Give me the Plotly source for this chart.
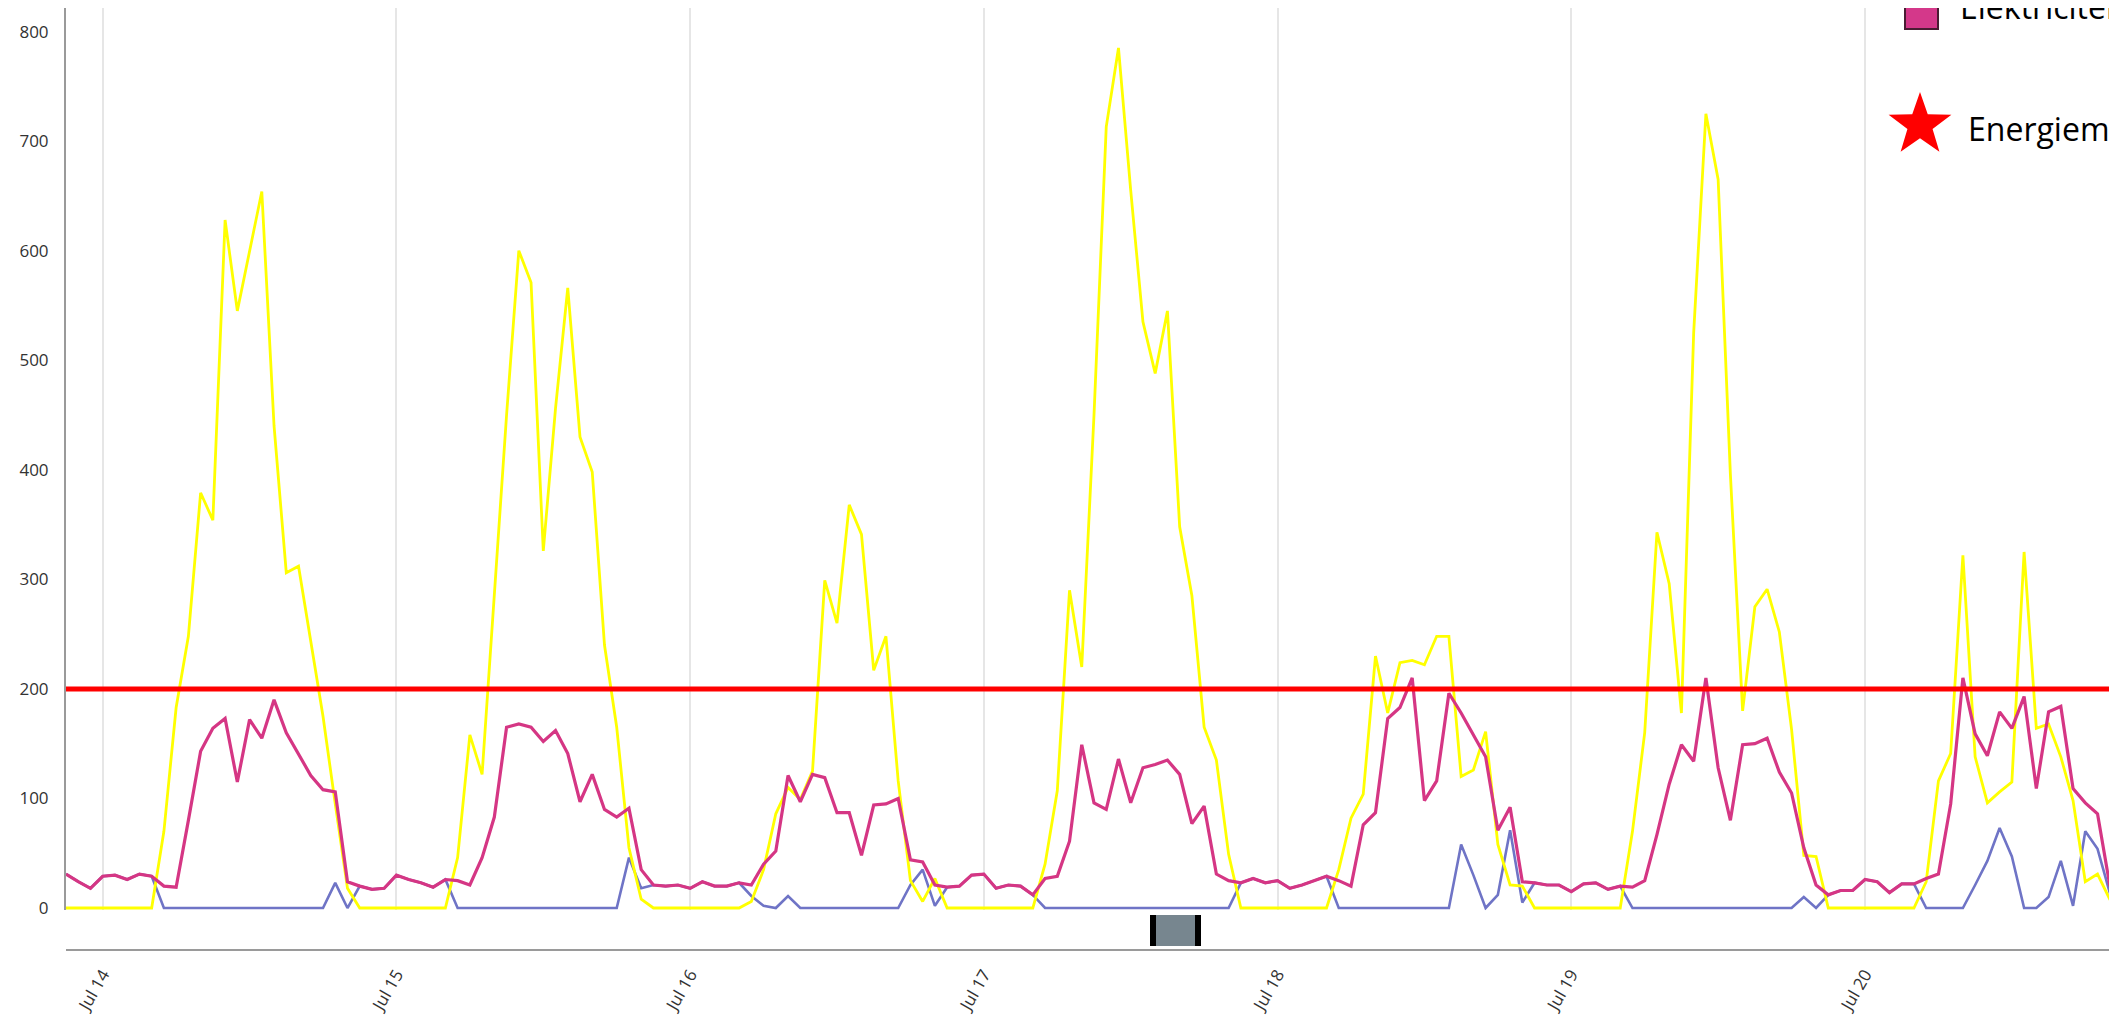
import math
import plotly.graph_objects as go
import pandas as pd

# ---------------- data (hourly, Jul 13 21:00 -> Jul 20 21:00) ----------------
START = "2024-07-13 21:00"

solar = [0, 0, 0, 0, 0, 0, 0, 0, 70, 183, 248, 379, 354, 628, 545, 600, 654, 440, 306, 312, 245, 175, 95, 18,
         0, 0, 0, 0, 0, 0, 0, 0, 46, 158, 122, 290, 450, 600, 571, 326, 456, 566, 430, 398, 240, 165, 55, 8,
         0, 0, 0, 0, 0, 0, 0, 0, 6, 35, 86, 110, 99, 125, 299, 260, 368, 341, 217, 248, 116, 25, 6, 27,
         0, 0, 0, 0, 0, 0, 0, 0, 40, 107, 290, 220, 450, 713, 785, 655, 535, 488, 545, 348, 285, 165, 135, 49,
         0, 0, 0, 0, 0, 0, 0, 0, 35, 82, 104, 230, 178, 224, 226, 222, 248, 248, 120, 126, 161, 58, 21, 20,
         0, 0, 0, 0, 0, 0, 0, 0, 70, 160, 343, 296, 178, 525, 725, 665, 396, 180, 275, 291, 252, 163, 48, 47,
         0, 0, 0, 0, 0, 0, 0, 0, 24, 116, 141, 322, 138, 96, 106, 115, 325, 164, 168, 138, 98, 24, 31, 8,
         0]

electricity = [31, 24, 18, 29, 30, 26, 31, 29, 20, 19, 80, 143, 164, 173, 115, 172, 155, 190, 160, 141, 121, 108, 106, 24,
               20, 17, 18, 30, 26, 23, 19, 26, 25, 21, 46, 83, 165, 168, 165, 152, 162, 141, 97, 122, 90, 83, 91, 35,
               21, 20, 21, 18, 24, 20, 20, 23, 21, 40, 52, 121, 97, 122, 119, 87, 87, 48, 94, 95, 100, 44, 42, 21,
               19, 20, 30, 31, 18, 21, 20, 12, 27, 29, 61, 149, 96, 90, 136, 96, 128, 131, 135, 122, 77, 93, 31, 25,
               23, 27, 23, 25, 18, 21, 25, 29, 25, 20, 76, 87, 173, 183, 210, 98, 116, 196, 178, 158, 138, 71, 92, 24,
               23, 21, 21, 15, 22, 23, 17, 20, 19, 25, 67, 113, 149, 134, 210, 128, 80, 149, 150, 155, 124, 105, 55, 21,
               12, 16, 16, 26, 24, 14, 22, 22, 27, 31, 95, 210, 159, 139, 179, 164, 193, 109, 179, 184, 109, 96, 86, 21,
               20]

grid = [31, 24, 18, 29, 30, 26, 31, 29, 0, 0, 0, 0, 0, 0, 0, 0, 0, 0, 0, 0, 0, 0, 23, 0,
        20, 17, 18, 30, 26, 23, 19, 26, 0, 0, 0, 0, 0, 0, 0, 0, 0, 0, 0, 0, 0, 0, 46, 18,
        21, 20, 21, 18, 24, 20, 20, 23, 11, 2, 0, 11, 0, 0, 0, 0, 0, 0, 0, 0, 0, 21, 35, 2,
        19, 20, 30, 31, 18, 21, 20, 12, 0, 0, 0, 0, 0, 0, 0, 0, 0, 0, 0, 0, 0, 0, 0, 0,
        23, 27, 23, 25, 18, 21, 25, 29, 0, 0, 0, 0, 0, 0, 0, 0, 0, 0, 58, 30, 0, 12, 71, 5,
        23, 21, 21, 15, 22, 23, 17, 20, 0, 0, 0, 0, 0, 0, 0, 0, 0, 0, 0, 0, 0, 0, 10, 0,
        12, 16, 16, 26, 24, 14, 22, 22, 0, 0, 0, 0, 21, 43, 73, 47, 0, 0, 10, 43, 2, 70, 54, 14,
        19]

threshold = 200
y_ticks = [0, 100, 200, 300, 400, 500, 600, 700, 800]
legend_labels = ["Elektriciteit", "Energiemodus"]

times = pd.date_range(START, periods=len(solar), freq="h")

# ---------------- geometry / style ----------------
W, H = 2117, 1016
ML, MR, MT, MB = 58, 3, 0, 74
PW, PH = W - ML - MR, H - MT - MB
Y_DOMAIN_BOTTOM = 0.04225


def px(xp):
    return (xp - ML) / PW


def py(yp):
    return 1 - (yp - MT) / PH


FONT = "Open Sans"
YELLOW = "#FFFF00"
PINK = "#D53684"
BLUE = "#6F74C6"
RED = "#FF0000"

fig = go.Figure()
fig.add_trace(go.Scatter(x=times, y=grid, mode="lines", line=dict(color=BLUE, width=2.6), name="Net"))
fig.add_trace(go.Scatter(x=times, y=solar, mode="lines", line=dict(color=YELLOW, width=2.8), name="Zon"))
fig.add_trace(go.Scatter(x=times, y=electricity, mode="lines", line=dict(color=PINK, width=3.2),
                         name=legend_labels[0]))
fig.add_trace(go.Scatter(x=[times[0], times[-1]], y=[threshold, threshold], mode="lines",
                         line=dict(color=RED, width=5), name=legend_labels[1]))

shapes = []
# scrollbar-like handle below the series
shapes.append(dict(type="rect", xref="paper", yref="paper", x0=px(1142), x1=px(1193), y0=py(938), y1=py(907),
                   fillcolor="#77868F", line=dict(width=0), layer="above"))
shapes.append(dict(type="rect", xref="paper", yref="paper", x0=px(1142), x1=px(1148), y0=py(938), y1=py(907),
                   fillcolor="black", line=dict(width=0), layer="above"))
shapes.append(dict(type="rect", xref="paper", yref="paper", x0=px(1187), x1=px(1193), y0=py(938), y1=py(907),
                   fillcolor="black", line=dict(width=0), layer="above"))
# legend square
shapes.append(dict(type="rect", xref="paper", yref="paper", x0=px(1897), x1=px(1930), y0=py(21), y1=py(-14),
                   fillcolor="#D4388A", line=dict(color="#4A1C33", width=2), layer="above"))
# legend star
cx, cy, R, r = 1912, 117, 33, 13.2
pts = []
for k in range(10):
    ang = -math.pi / 2 + k * math.pi / 5
    rad = R if k % 2 == 0 else r
    pts.append((px(cx + rad * math.cos(ang)), py(cy + rad * math.sin(ang))))
path = "M " + " L ".join(f"{a:.5f},{b:.5f}" for a, b in pts) + " Z"
shapes.append(dict(type="path", xref="paper", yref="paper", path=path, fillcolor=RED,
                   line=dict(width=0), layer="above"))

annotations = [
    dict(text=legend_labels[0], xref="paper", yref="paper", x=px(1950), y=py(-1), xanchor="left",
         yanchor="middle", showarrow=False, font=dict(family=FONT, size=32, color="black")),
    dict(text=legend_labels[1], xref="paper", yref="paper", x=px(1958), y=py(121), xanchor="left",
         yanchor="middle", showarrow=False, font=dict(family=FONT, size=32, color="black")),
]

fig.update_layout(
    width=W, height=H,
    margin=dict(l=ML, r=MR, t=MT, b=MB, pad=0),
    paper_bgcolor="white", plot_bgcolor="rgba(0,0,0,0)",
    showlegend=False,
    shapes=shapes,
    annotations=annotations,
    xaxis=dict(type="date", range=[times[0], times[-1]], domain=[0, 1], anchor="free", position=0,
               showline=True, linecolor="#9A9A9A", linewidth=2,
               showgrid=True, gridcolor="#E6E6E6", gridwidth=1.5,
               tick0="2024-07-14", dtick=86400000, tickformat="%b %d", tickangle=-60,
               ticks="outside", ticklen=7, tickcolor="rgba(0,0,0,0)",
               tickfont=dict(family=FONT, size=17, color="#333333"), zeroline=False),
    yaxis=dict(domain=[Y_DOMAIN_BOTTOM, 1], range=[-2, 821.5],
               showline=True, linecolor="#9A9A9A", linewidth=2, showgrid=False, zeroline=False,
               tickvals=y_ticks, ticks="outside", ticklen=12, tickcolor="rgba(0,0,0,0)",
               tickfont=dict(family=FONT, size=17, color="#333333")),
)

fig.write_html("out.html")
